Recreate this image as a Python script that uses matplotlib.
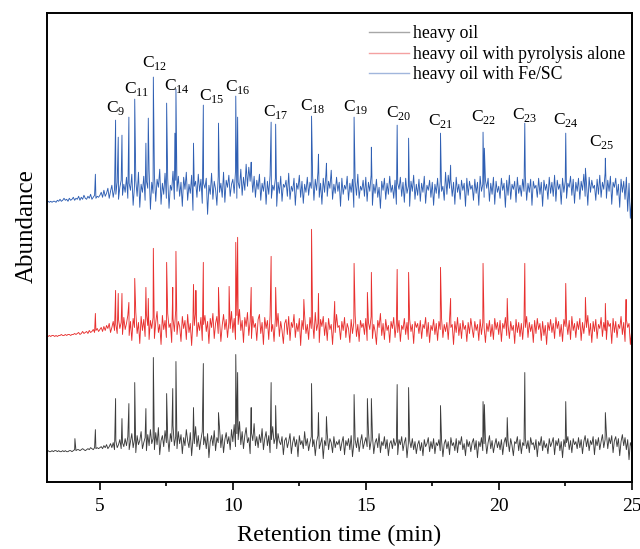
import numpy as np
import matplotlib
matplotlib.use("Agg")
import matplotlib.pyplot as plt

plt.rcParams['font.family'] = ['Liberation Serif', 'DejaVu Serif']
plt.rcParams['mathtext.fontset'] = 'custom'
plt.rcParams['mathtext.rm'] = 'Liberation Serif'

# sampling grid of the chromatograms (min), 0.05 min steps
t_grid = np.round(3.0 + 0.05 * np.arange(441), 3)

# baseline signal, 20 values per minute (3 ... 25 min)
gray_noise = [0, 1, 0, 0, 1, 0, 1, 1, 0, 1, 0, 0, 1, 0, 1, 0, 0, 1, 1, 0,
              1, 2, 1, 2, 2, 1, 2, 3, 2, 1, 2, 3, 2, 4, 3, 2, 4, 3, 4, 3,
              4, 5, 3, 6, 4, 7, 3, 5, 8, 4, 9, 2, 11, 4, 7, 12, 3, 9, 5, 13,
              6, 15, 2, 10, 18, 4, 12, -1, 16, 7, 11, 20, 3, 9, 14, 1, 17, 6, 22, 8,
              13, 2, 19, 7, 24, -3, 11, 16, 5, 21, 9, 14, 0, 18, 10, 26, 6, 15, 3, 20,
              8, 17, -2, 14, 6, 22, 11, 4, 19, -4, 13, 8, 25, 5, 16, 2, 12, 20, 7, 15,
              3, 18, -6, 10, 16, 6, 21, 1, 14, 9, 24, 4, 17, -1, 12, 19, 8, 15, 2, 22,
              10, 27, 5, 18, 12, 30, 7, 20, 3, 16, 24, 9, 14, -2, 19, 11, 28, 6, 15, 4,
              17, 9, 23, 2, 13, 20, 6, 16, -1, 12, 25, 8, 14, 3, 18, 10, 7, 15, -3, 11,
              14, 4, 10, 18, -2, 9, 15, 5, 12, -5, 16, 7, 11, 3, 20, 6, 13, 1, 9, 15,
              5, 12, -4, 10, 16, 3, 8, 14, -7, 11, 6, 18, 2, 13, 9, -1, 15, 4, 10, 7,
              12, 1, 9, 15, -3, 11, 6, 13, 2, 16, -5, 8, 12, 4, 14, 0, 10, 17, 3, 9,
              14, 5, 20, 2, 11, 16, -2, 9, 13, 4, 18, -1, 10, 6, 15, 3, 12, -4, 8, 11,
              3, 13, 6, 10, -3, 12, 7, 15, 1, 9, 14, -6, 8, 11, 4, 13, 2, 10, -2, 7,
              11, 1, 9, -4, 12, 5, 8, 14, 0, 10, 3, 13, -2, 9, 6, 12, 1, 11, -5, 8,
              12, 3, 10, -3, 14, 6, 9, 1, 13, -1, 11, 7, 15, 2, 8, -4, 12, 5, 10, 0,
              9, 13, 2, 11, -6, 10, 5, 14, 1, 8, 12, -2, 9, 16, 3, 11, -1, 7, 13, 4,
              10, 2, 12, -3, 9, 14, 5, 11, 0, 13, 6, -4, 10, 8, 15, 1, 12, -2, 9, 6,
              13, 3, 11, -1, 14, 7, 9, 2, 12, -5, 10, 6, 15, 1, 11, 4, 8, -2, 13, 5,
              9, 14, -3, 11, 6, 13, 1, 10, -6, 12, 5, 9, 15, 2, 11, -1, 13, 7, 10, 3,
              14, 4, 12, -2, 10, 16, 5, 13, 1, 11, 7, 15, -3, 12, 6, 14, 2, 10, 17, 4,
              12, 18, 3, 14, 8, 16, -1, 11, 15, 5, 13, -4, 10, 17, 6, 14, 2, 12, -8, 9,
              5]

red_noise = [0, 0, 1, 0, 1, 1, 0, 1, 0, 1, 1, 2, 1, 1, 2, 1, 2, 2, 1, 2,
             2, 3, 2, 3, 4, 2, 3, 5, 3, 4, 5, 3, 6, 4, 5, 7, 4, 6, 8, 5,
             7, 9, 5, 10, 6, 11, 8, 13, 4, 9, 15, 6, 12, 3, 17, 8, 14, 2, 19, 7,
             13, 21, 1, 15, -4, 18, 9, 24, 3, 14, -7, 20, 6, 17, 0, 22, 11, -3, 16, 8,
             19, -2, 14, 25, 4, 12, -8, 21, 7, 16, -1, 23, 9, 13, -6, 18, 5, 26, 2, 15,
             10, -5, 20, 8, 16, -3, 22, 4, 13, -9, 17, 11, 24, 0, 14, 6, 19, -4, 12, 21,
             5, 15, -7, 18, 9, 23, -2, 13, 20, 3, 16, -5, 11, 22, 7, 17, -1, 14, 8, 25,
             4, 18, -3, 21, 12, 27, 6, 16, -6, 19, 10, 24, 1, 15, -2, 20, 9, 13, -4, 17,
             22, 3, 14, -8, 19, 8, 16, -3, 21, 5, 12, -5, 18, 10, 23, 0, 15, 6, -7, 13,
             17, 2, 20, -4, 14, 9, 22, -1, 13, 5, 18, -9, 16, 7, 21, 3, 12, -3, 19, 8,
             15, -2, 24, 6, 13, -6, 17, 10, 20, 1, 14, -4, 18, 7, 12, -8, 16, 4, 22, 9,
             11, -3, 15, 6, 19, -1, 13, 8, -6, 17, 3, 14, 21, 0, 12, -5, 16, 9, 13, 2,
             18, -4, 14, 7, 20, -2, 12, 5, -8, 16, 9, 23, 1, 13, -3, 17, 6, 11, -6, 15,
             8, 19, -1, 13, 4, 16, -5, 11, 7, 18, 2, 14, -3, 17, 5, 12, -7, 15, 9, 13,
             3, 16, -2, 12, 8, 19, 0, 14, -6, 11, 6, 17, 2, 13, -4, 15, 7, 18, -1, 12,
             5, 14, -3, 17, 9, 12, -8, 15, 4, 19, 1, 13, -2, 16, 7, 11, -5, 14, 3, 18,
             8, -1, 15, 6, 12, -4, 17, 2, 14, 9, -6, 13, 5, 16, 0, 12, -3, 18, 7, 14,
             2, 16, -5, 13, 8, 19, 1, 12, -2, 15, 6, 11, -7, 17, 4, 14, 0, 13, -3, 16,
             9, 20, -1, 14, 5, 12, -6, 16, 3, 18, 7, 13, -4, 15, 1, 11, -8, 14, 6, 17,
             4, 13, -2, 19, 8, 15, 0, 12, -5, 17, 10, 14, 2, 16, -3, 20, 6, 13, -1, 15,
             7, 18, -4, 14, 3, 16, 9, 21, 1, 13, -6, 15, 5, 17, -2, 12, 8, 19, 0, 14,
             6, -3, 16, 10, 13, -7, 18, 4, 15, -1, 12, 8, 20, 2, 14, -5, 17, 9, 13, -8,
             6]

blue_noise = [0, 1, 0, 1, 0, 1, 1, 0, 2, 1, 3, 1, 2, 4, 2, 3, 1, 4, 2, 3,
              5, 2, 4, 3, 6, 2, 5, 3, 7, 4, 3, 6, 4, 8, 3, 5, 7, 4, 6, 5,
              7, 10, 5, 12, 6, 9, 14, 4, 11, 17, 5, 13, 8, 20, 3, 15, 22, 7, 18, 10,
              25, 4, 19, 12, 28, -3, 16, 22, 6, 30, -5, 18, 10, 26, 2, 21, 14, 32, -7, 20,
              9, 27, 1, 23, 15, 33, -2, 19, 8, 29, 4, 24, -6, 17, 12, 31, 3, 22, 11, 26,
              6, 20, -4, 25, 13, 30, 2, 18, 9, 27, -8, 16, 21, 5, 28, 11, 23, -1, 19, 14,
              24, -12, 17, 8, 29, 3, 21, 13, -3, 26, 10, 19, 5, 30, 0, 22, 15, 27, 6, 18,
              23, 9, 31, 4, 20, 14, 33, 7, 25, 12, 38, 16, 35, 21, 30, 10, 26, 5, 22, 13,
              28, 2, 19, 11, 25, -2, 21, 8, 27, 4, 17, 12, 24, -4, 20, 9, 26, 1, 18, 15,
              22, 6, 29, 3, 16, 11, 24, -3, 19, 13, 27, 5, 21, -1, 18, 10, 25, 7, 20, 14,
              26, 2, 23, 12, 30, 5, 19, -2, 24, 10, 28, 6, 21, 14, 32, 3, 18, 9, 25, 11,
              20, -4, 24, 8, 17, 13, 26, 2, 19, 10, 23, -5, 21, 7, 28, 4, 16, 12, 22, 6,
              25, 1, 20, 11, 27, -3, 18, 9, 23, 5, 15, -6, 21, 12, 24, 3, 19, 8, 26, 10,
              17, 4, 22, -2, 19, 13, 25, 6, 20, 0, 24, 9, 16, -4, 21, 11, 27, 3, 18, 7,
              23, 1, 19, 10, 26, -1, 17, 12, 22, 5, 20, -3, 18, 9, 24, 4, 21, 11, 16, 2,
              30, 8, 27, 14, 23, 6, 20, -2, 25, 10, 18, 3, 22, 12, 19, -4, 24, 7, 21, 13,
              17, 2, 23, 9, 20, -3, 26, 11, 18, 5, 22, 14, 24, 1, 19, 8, 25, -2, 21, 10,
              16, 4, 24, 12, 19, -5, 22, 7, 27, 3, 18, 13, 21, 0, 25, 9, 17, 6, 23, 11,
              26, 2, 19, 10, 23, -3, 21, 14, 17, 5, 24, 8, 20, -4, 22, 12, 18, 3, 25, 9,
              20, 6, 27, 1, 22, 13, 18, -2, 24, 10, 21, 4, 19, 15, 26, 7, 23, -1, 20, 11,
              24, 3, 21, 12, 28, 6, 19, -3, 25, 10, 22, 14, 17, 2, 23, 8, 27, 5, 20, 13,
              29, 4, 22, 11, 26, -2, 20, 15, 24, 7, 18, -5, 23, 10, 21, 3, 25, -9, 19, -16,
              4]

# peaks: retention time (min) and height above baseline
gray_peak_t = [4.06, 4.83, 5.59, 5.83, 6.09, 6.31, 6.73, 7.01, 7.51, 7.74, 7.86,
               8.52, 8.89, 9.46, 10.11, 10.18, 10.69, 11.44, 11.61, 12.96, 13.22,
               13.52, 14.56, 15.06, 15.21, 16.18, 16.61, 17.81, 19.41, 19.46,
               20.32, 20.98, 22.52, 24.01]
gray_peak_h = [13, 22, 53, 33, 48, 69, 43, 94, 58, 63, 90,
               44, 88, 39, 97, 79, 44, 69, 46, 68, 39,
               35, 57, 53, 53, 67, 64, 46, 50, 47,
               34, 79, 50, 39]

red_peak_t = [4.83, 5.59, 5.69, 5.83, 6.09, 6.31, 6.73, 6.82, 7.01, 7.51, 7.74, 7.86,
              8.52, 8.61, 8.89, 9.46, 9.86, 10.11, 10.18, 10.69, 11.44, 11.61,
              12.67, 12.96, 13.22, 13.83, 14.56, 15.06, 15.21, 16.18, 16.61,
              17.81, 18.19, 19.41, 20.32, 20.98, 22.52, 23.26, 24.01, 24.79]
red_peak_h = [23, 46, 43, 43, 34, 58, 49, 38, 88, 74, 49, 85,
              52, 46, 74, 49, 50, 94, 99, 49, 80, 49,
              37, 107, 43, 35, 73, 44, 64, 67, 64,
              69, 38, 73, 38, 73, 53, 39, 33, 37]

blue_peak_t = [4.83, 5.59, 5.69, 5.83, 6.09, 6.31, 6.73, 6.82, 7.01, 7.51, 7.82, 7.86,
               8.52, 8.89, 9.46, 10.11, 10.18, 10.69, 11.44, 11.61, 12.96, 13.22,
               13.52, 14.56, 15.21, 16.18, 16.61, 17.81, 18.19, 19.41, 19.46,
               20.98, 22.52, 23.26, 24.01]
blue_peak_h = [28, 82, 65, 67, 85, 103, 59, 84, 125, 99, 69, 113,
               59, 97, 79, 106, 85, 40, 80, 78, 86, 48,
               39, 85, 55, 77, 64, 69, 37, 70, 54,
               79, 69, 34, 44]

# carbon number labels above the Fe/SC trace
carbon_n = [9, 11, 12, 14, 15, 16, 17, 18, 19, 20, 21, 22, 23, 24, 25]
label_t = [5.59, 6.38, 7.05, 7.91, 9.19, 10.19, 11.61, 13.02, 14.61, 16.24,
           17.81, 19.44, 20.97, 22.53, 23.86]
label_y = [373, 392, 418, 395, 385, 394, 369, 375, 374, 368, 360, 364, 366, 361, 339]

series = ["heavy oil", "heavy oil with pyrolysis alone", "heavy oil with Fe/SC"]


def trace(noise, pk_t, pk_h):
    if len(noise) != len(t_grid):
        raise ValueError("noise length %d" % len(noise))
    t = np.concatenate([t_grid, pk_t])
    y = np.concatenate([np.array(noise, float), np.array(pk_h, float)])
    order = np.argsort(t, kind="stable")
    return t[order], y[order]


fig = plt.figure(figsize=(6.4, 5.49), dpi=100)
ax = fig.add_axes([0.073, 0.1226, 0.914, 0.8537])

offsets = [30, 145, 279]
colors = ["#3c3c3c", "#e8302f", "#2f5fb3"]
data = [(gray_noise, gray_peak_t, gray_peak_h),
        (red_noise, red_peak_t, red_peak_h),
        (blue_noise, blue_peak_t, blue_peak_h)]
for (nz, pt, ph), off, c, name in zip(data, offsets, colors, series):
    t, y = trace(nz, pt, ph)
    ax.plot(t, y + off, color=c, lw=0.65, label=name)

for n, lt, ly in zip(carbon_n, label_t, label_y):
    ax.text(lt, ly, "C$_\\mathregular{%d}$" % n, ha="center", va="center", fontsize=12.5)

ax.set_xlim(3, 25)
ax.set_ylim(0, 468)
ax.set_xticks([5, 10, 15, 20, 25])
ax.set_xticks([7.5, 12.5, 17.5, 22.5], minor=True)
ax.set_yticks([])
ax.tick_params(axis="x", which="major", direction="out", length=6, width=1.2, labelsize=14, pad=6)
ax.tick_params(axis="x", which="minor", direction="out", length=3, width=1.2)
for s in ax.spines.values():
    s.set_linewidth(1.4)

ax.set_xlabel("Retention time (min)", fontsize=17.5, labelpad=7)
ax.set_ylabel("Abundance", fontsize=18)
ax.yaxis.set_label_coords(-0.016, 0.545)

leg = ax.legend(loc="upper right", frameon=False, fontsize=12.7, handlelength=2.3,
                handletextpad=0.2, labelspacing=0.2, borderaxespad=0.3,
                bbox_to_anchor=(1.01, 1.0))
for ln in leg.get_lines():
    ln.set_linewidth(1.0)
    ln.set_alpha(0.45)

fig.savefig("out.png", dpi=100)
